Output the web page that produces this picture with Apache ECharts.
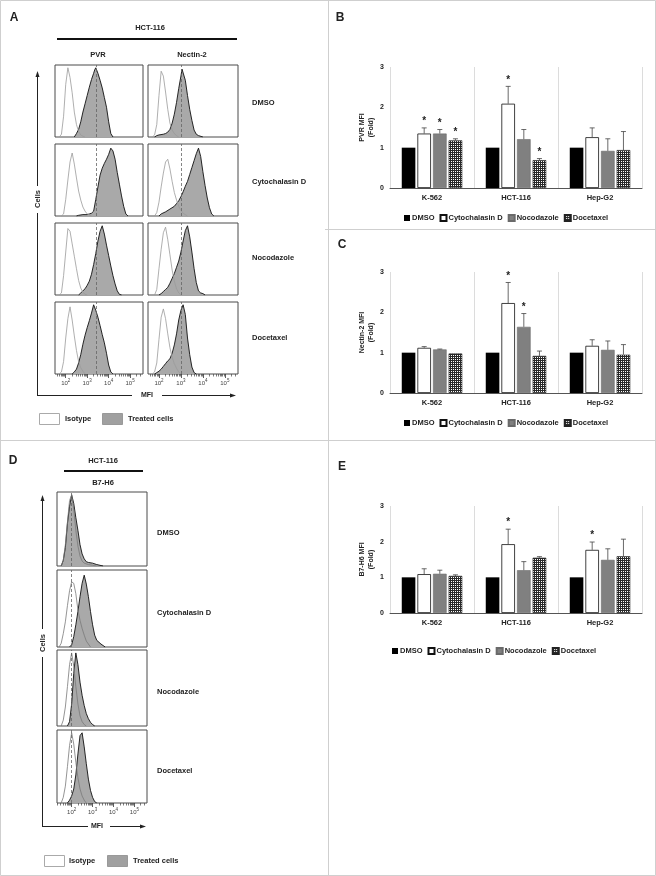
<!DOCTYPE html>
<html>
<head>
<meta charset="utf-8">
<script src="https://cdn.jsdelivr.net/npm/echarts@6/dist/echarts.min.js"></script>
<style>
  html, body { margin: 0; padding: 0; background: #fff; }
  #main { width: 656px; height: 876px; }
</style>
</head>
<body>
<div id="main"></div>
<script>
// ---- data -------------------------------------------------------------
const cellLines = ['K-562', 'HCT-116', 'Hep-G2'];
const treatments = ['DMSO', 'Cytochalasin D', 'Nocodazole', 'Docetaxel'];
const rowLabels = ['DMSO', 'Cytochalasin D', 'Nocodazole', 'Docetaxel'];

// B: PVR MFI (fold), mean / sd / significant
const pvrMean = [[1, 1, 1], [1.35, 2.09, 1.26], [1.35, 1.21, 0.92], [1.18, 0.69, 0.94]];
const pvrSd = [[0, 0, 0], [0.14, 0.43, 0.23], [0.10, 0.24, 0.30], [0.04, 0.04, 0.46]];
const pvrSig = [[0, 0, 0], [1, 1, 0], [1, 0, 0], [1, 1, 0]];
// C: Nectin-2 MFI (fold)
const necMean = [[1, 1, 1], [1.12, 2.23, 1.17], [1.08, 1.64, 1.07], [0.98, 0.92, 0.95]];
const necSd = [[0, 0, 0], [0.03, 0.51, 0.15], [0.01, 0.33, 0.22], [0, 0.12, 0.25]];
const necSig = [[0, 0, 0], [0, 1, 0], [0, 1, 0], [0, 0, 0]];
// E: B7-H6 MFI (fold)
const b7Mean = [[1, 1, 1], [1.09, 1.93, 1.77], [1.10, 1.20, 1.49], [1.04, 1.55, 1.59]];
const b7Sd = [[0, 0, 0], [0.15, 0.42, 0.22], [0.10, 0.24, 0.31], [0.03, 0.03, 0.48]];
const b7Sig = [[0, 0, 0], [0, 1, 1], [0, 0, 0], [0, 0, 0]];

// histograms: [log10 MFI, % of max]
const pvrIsoDmso = [[1.7,0],[1.8,4],[1.9,30],[2.0,76],[2.1,100],[2.2,86],[2.3,64],[2.4,36],[2.5,18],[2.6,8],[2.7,3],[2.8,1],[2.9,0]];
const pvrTrtDmso = [[2.4,0],[2.5,5],[2.6,11],[2.7,22],[2.8,36],[2.9,48],[3.0,60],[3.1,72],[3.2,83],[3.3,92],[3.35,97],[3.4,100],[3.5,92],[3.6,82],[3.7,71],[3.8,57],[3.9,43],[4.0,22],[4.1,5],[4.2,0]];
const pvrIsoCyto = [[1.8,0],[1.9,3],[2.0,24],[2.1,52],[2.2,78],[2.3,91],[2.4,75],[2.5,55],[2.6,36],[2.7,23],[2.8,13],[2.9,7],[3.0,3],[3.2,0]];
const pvrTrtCyto = [[2.5,0],[2.6,1],[2.8,2],[3.0,2],[3.1,3],[3.2,4],[3.3,7],[3.4,24],[3.5,42],[3.6,59],[3.7,69],[3.8,76],[3.9,82],[4.0,89],[4.1,98],[4.15,100],[4.2,94],[4.3,82],[4.4,63],[4.5,46],[4.6,29],[4.7,14],[4.8,3],[4.9,0]];
const pvrIsoNoc = [[1.7,0],[1.8,3],[1.9,28],[2.0,62],[2.1,96],[2.2,92],[2.3,74],[2.4,56],[2.5,38],[2.6,21],[2.7,10],[2.8,4],[2.9,1],[3.0,0]];
const pvrTrtNoc = [[2.6,0],[2.7,3],[2.8,6],[2.9,9],[3.0,14],[3.1,20],[3.2,30],[3.3,44],[3.4,60],[3.5,78],[3.6,92],[3.7,100],[3.8,88],[3.9,72],[4.0,57],[4.1,42],[4.2,28],[4.3,16],[4.4,6],[4.5,1],[4.6,0]];
const pvrIsoDoc = [[1.7,0],[1.8,3],[1.9,18],[2.0,52],[2.1,80],[2.2,97],[2.3,78],[2.4,55],[2.5,34],[2.6,18],[2.7,9],[2.8,4],[2.9,0]];
const pvrTrtDoc = [[2.3,0],[2.4,3],[2.5,7],[2.6,16],[2.7,28],[2.8,43],[2.9,56],[3.0,67],[3.1,77],[3.2,88],[3.3,100],[3.4,92],[3.5,82],[3.6,70],[3.7,57],[3.8,45],[3.9,30],[4.0,13],[4.1,3],[4.2,0]];

const necIsoDmso = [[1.7,0],[1.8,3],[1.9,18],[2.0,60],[2.1,95],[2.2,88],[2.3,65],[2.4,40],[2.5,20],[2.6,10],[2.7,5],[2.8,2],[2.9,0]];
const necTrtDmso = [[1.8,0],[1.9,2],[2.0,3],[2.2,4],[2.3,5],[2.4,7],[2.5,11],[2.6,20],[2.7,33],[2.8,50],[2.9,70],[3.0,88],[3.05,98],[3.1,96],[3.2,82],[3.3,60],[3.4,40],[3.5,24],[3.6,10],[3.7,4],[3.8,2],[4.0,0]];
const necIsoCyto = [[1.8,0],[1.9,5],[2.0,20],[2.1,42],[2.2,62],[2.3,78],[2.4,82],[2.5,68],[2.6,50],[2.7,34],[2.8,23],[2.9,14],[3.0,8],[3.1,4],[3.3,0]];
const necTrtCyto = [[2.0,0],[2.1,3],[2.3,6],[2.5,10],[2.7,14],[2.8,18],[2.9,22],[3.0,28],[3.1,35],[3.2,43],[3.3,50],[3.4,60],[3.5,70],[3.6,80],[3.7,90],[3.8,98],[3.85,100],[3.9,86],[4.0,64],[4.1,44],[4.2,26],[4.3,12],[4.4,3],[4.5,0]];
const necIsoNoc = [[1.8,0],[1.9,8],[2.0,38],[2.1,66],[2.2,90],[2.3,98],[2.4,80],[2.5,58],[2.6,36],[2.7,20],[2.8,9],[2.9,3],[3.0,0]];
const necTrtNoc = [[2.0,0],[2.1,2],[2.2,5],[2.3,8],[2.4,11],[2.5,17],[2.6,24],[2.7,31],[2.8,40],[2.9,49],[3.0,62],[3.1,78],[3.2,93],[3.3,100],[3.4,84],[3.5,62],[3.6,38],[3.7,18],[3.8,6],[3.9,3],[4.0,2],[4.1,0]];
const necIsoDoc = [[1.7,0],[1.8,3],[1.9,16],[2.0,50],[2.1,82],[2.2,94],[2.3,80],[2.4,58],[2.5,38],[2.6,24],[2.7,15],[2.8,8],[2.9,3],[3.0,0]];
const necTrtDoc = [[1.8,0],[1.9,2],[2.0,4],[2.1,7],[2.2,11],[2.3,15],[2.4,19],[2.5,22],[2.6,30],[2.7,42],[2.8,58],[2.9,78],[3.0,92],[3.1,100],[3.2,86],[3.3,52],[3.4,28],[3.5,10],[3.6,2],[3.7,0]];

const b7IsoDmso = [[1.5,0],[1.6,8],[1.7,30],[1.8,62],[1.9,92],[2.0,100],[2.1,80],[2.2,50],[2.3,28],[2.4,14],[2.5,7],[2.6,4],[2.8,2],[3.0,1],[3.2,0]];
const b7TrtDmso = [[1.5,0],[1.6,8],[1.7,26],[1.8,60],[1.9,84],[2.0,100],[2.1,88],[2.2,68],[2.3,50],[2.4,30],[2.5,17],[2.6,10],[2.7,6],[2.8,5],[3.0,4],[3.2,2],[3.5,0]];
const b7IsoCyto = [[1.4,0],[1.5,5],[1.6,18],[1.7,34],[1.8,56],[1.9,76],[2.0,88],[2.1,86],[2.2,72],[2.3,50],[2.4,36],[2.5,25],[2.6,16],[2.7,8],[2.9,0]];
const b7TrtCyto = [[1.9,0],[2.0,3],[2.1,14],[2.2,30],[2.3,48],[2.4,68],[2.5,86],[2.6,97],[2.7,85],[2.8,68],[2.9,48],[3.0,30],[3.1,16],[3.2,9],[3.4,4],[3.6,0]];
const b7IsoNoc = [[1.5,0],[1.6,8],[1.7,26],[1.8,54],[1.9,84],[2.0,100],[2.1,82],[2.2,54],[2.3,30],[2.4,14],[2.5,6],[2.6,2],[2.7,0]];
const b7TrtNoc = [[1.8,0],[1.9,6],[2.0,30],[2.1,72],[2.2,100],[2.3,84],[2.4,60],[2.5,42],[2.6,28],[2.7,17],[2.8,10],[2.9,5],[3.0,2],[3.1,0]];
const b7IsoDoc = [[1.5,0],[1.6,8],[1.7,24],[1.8,52],[1.9,82],[2.0,100],[2.1,84],[2.2,58],[2.3,36],[2.4,20],[2.5,10],[2.6,4],[2.7,0]];
const b7TrtDoc = [[1.8,0],[1.9,4],[2.0,10],[2.1,20],[2.2,40],[2.3,70],[2.4,96],[2.5,100],[2.6,80],[2.7,56],[2.8,34],[2.9,18],[3.0,8],[3.1,2],[3.2,0]];

// DMSO reference MFI (dashed line), log10
const pvrRef = 3.4, necRef = 3.0, b7Ref = 2.0;
const decadeTicks = [2, 3, 4, 5];
const minorMult = [2, 3, 4, 5, 6, 7, 8, 9];

// ---- helpers ----------------------------------------------------------
const FF = "'Liberation Sans', Arial, sans-serif";
const grid = [], xAxis = [], yAxis = [], series = [];

function minorTicks(lo, hi) {
  const out = [];
  [1, 2, 3, 4, 5].forEach(d => minorMult.forEach(m => {
    const v = Math.log10(m) + d;
    if (v > lo && v < hi) out.push(v);
  }));
  return out;
}

function addHist(box, range, iso, trt, ref, bottom, isoColor) {
  const gi = grid.length;
  grid.push({ left: box.left, top: box.top, width: box.width, height: box.height,
    show: true, borderColor: '#4a4a4a', borderWidth: 1 });
  const xi = xAxis.length;
  xAxis.push({
    type: 'value', gridIndex: gi, min: range[0], max: range[1], position: 'bottom',
    axisLine: { show: false }, splitLine: { show: false },
    axisTick: { show: bottom, customValues: decadeTicks, length: 4, lineStyle: { color: '#333', width: 0.8 } },
    axisLabel: {
      show: bottom, customValues: decadeTicks, margin: 4,
      formatter: v => '{b|10}{s|' + v + '}',
      rich: {
        b: { fontSize: 6, fontFamily: FF, color: '#444' },
        s: { fontSize: 4.5, fontFamily: FF, color: '#444', padding: [0, 0, 5, 0] }
      }
    }
  });
  if (bottom) {
    xAxis.push({
      type: 'value', gridIndex: gi, min: range[0], max: range[1], position: 'bottom',
      axisLine: { show: false }, splitLine: { show: false }, axisLabel: { show: false },
      axisTick: { show: true, customValues: minorTicks(range[0], range[1]), length: 2.5, lineStyle: { color: '#444', width: 0.7 } }
    });
  }
  const yi = yAxis.length;
  yAxis.push({ type: 'value', gridIndex: gi, min: 0, max: 104, show: false });
  series.push({
    type: 'line', name: 'Treated cells', xAxisIndex: xi, yAxisIndex: yi, data: trt,
    symbol: 'none', lineStyle: { color: '#111', width: 0.9 },
    areaStyle: { color: '#a9a9a9', opacity: 1 }, z: 2, silent: true,
    markLine: { silent: true, symbol: 'none', label: { show: false },
      lineStyle: { type: [3, 2], color: '#666', width: 0.8 }, data: [{ xAxis: ref }] }
  });
  series.push({
    type: 'line', name: 'Isotype', xAxisIndex: xi, yAxisIndex: yi, data: iso,
    symbol: 'none', lineStyle: { color: isoColor, width: 0.8 }, z: 3, silent: true
  });
}

// panel A
const colsA = [{ left: 55, width: 88 }, { left: 148, width: 90 }];
const topsA = [65, 144, 223, 302];
const pvrIso = [pvrIsoDmso, pvrIsoCyto, pvrIsoNoc, pvrIsoDoc];
const pvrTrt = [pvrTrtDmso, pvrTrtCyto, pvrTrtNoc, pvrTrtDoc];
const necIso = [necIsoDmso, necIsoCyto, necIsoNoc, necIsoDoc];
const necTrt = [necTrtDmso, necTrtCyto, necTrtNoc, necTrtDoc];
topsA.forEach((t, r) => {
  addHist({ left: colsA[0].left, width: colsA[0].width, top: t, height: 72 }, [1.5, 5.6], pvrIso[r], pvrTrt[r], pvrRef, r === 3, '#9a9a9a');
  addHist({ left: colsA[1].left, width: colsA[1].width, top: t, height: 72 }, [1.5, 5.6], necIso[r], necTrt[r], necRef, r === 3, '#9a9a9a');
});
// panel D
const topsD = [492, 570, 650, 730];
const heightsD = [74, 77, 76, 73];
const b7Iso = [b7IsoDmso, b7IsoCyto, b7IsoNoc, b7IsoDoc];
const b7Trt = [b7TrtDmso, b7TrtCyto, b7TrtNoc, b7TrtDoc];
topsD.forEach((t, r) => {
  addHist({ left: 57, width: 90, top: t, height: heightsD[r] }, [1.3, 5.6], b7Iso[r], b7Trt[r], b7Ref, r === 3, '#7a7a7a');
});

// bar charts
const pc = document.createElement('canvas');
pc.width = 4; pc.height = 4;
const pg = pc.getContext('2d');
pg.fillStyle = '#2a2a2a'; pg.fillRect(0, 0, 4, 4);
pg.fillStyle = '#ffffff';
[[1, 1], [3, 3], [1, 3], [3, 1]].forEach(p => pg.fillRect(p[0], p[1], 1, 1));
const docPattern = { image: pc, repeat: 'repeat' };

const barStyles = [
  { color: '#000' },
  { color: '#fff', borderColor: '#111', borderWidth: 0.8 },
  { color: '#808080', borderColor: '#6a6a6a', borderWidth: 0.6 },
  { color: docPattern, borderColor: '#222', borderWidth: 0.6 }
];
const CAT_GAP = 0.28, BAR_GAP = 0.15;

function addBars(box, mean, sd, sig, yName) {
  const gi = grid.length;
  grid.push({ left: box.left, top: box.top, width: box.width, height: box.height });
  const xi = xAxis.length;
  xAxis.push({
    type: 'category', gridIndex: gi, data: cellLines,
    axisLine: { lineStyle: { color: '#555', width: 1 } }, axisTick: { show: false },
    splitLine: { show: true, lineStyle: { color: '#dcdcdc', width: 1 } },
    axisLabel: { fontSize: 7.5, fontWeight: 'bold', color: '#222', fontFamily: FF, margin: 6 }
  });
  const yi = yAxis.length;
  yAxis.push({
    type: 'value', gridIndex: gi, min: 0, max: 3, interval: 1,
    axisLine: { show: false }, axisTick: { show: false }, splitLine: { show: false },
    axisLabel: { fontSize: 7, fontWeight: 'bold', color: '#222', fontFamily: FF, margin: 6 },
    name: yName, nameLocation: 'middle', nameGap: 14,
    nameTextStyle: { fontSize: 7, fontWeight: 'bold', color: '#222', fontFamily: FF, lineHeight: 9 }
  });
  treatments.forEach((t, k) => {
    series.push({
      type: 'bar', name: t, xAxisIndex: xi, yAxisIndex: yi, data: mean[k],
      barGap: (BAR_GAP * 100) + '%', barCategoryGap: (CAT_GAP * 100) + '%',
      itemStyle: barStyles[k], silent: true
    });
  });
  [1, 2, 3].forEach(k => {
    series.push({
      type: 'custom', xAxisIndex: xi, yAxisIndex: yi, silent: true, z: 5,
      encode: { x: 0, y: 1 },
      data: cellLines.map((c, i) => [i, mean[k][i], sd[k][i], sig[k][i]]),
      renderItem: (params, api) => {
        const band = api.size([1, 0])[0];
        const used = band * (1 - CAT_GAP);
        const bw = used / (4 + 3 * BAR_GAP);
        const cx = api.coord([api.value(0), 0])[0] - used / 2 + bw / 2 + k * bw * (1 + BAR_GAP);
        const y0 = api.coord([api.value(0), api.value(1)])[1];
        const y1 = api.coord([api.value(0), api.value(1) + api.value(2)])[1];
        const kids = [];
        if (api.value(2) > 0) {
          kids.push({ type: 'line', shape: { x1: cx, y1: y0, x2: cx, y2: y1 }, style: { stroke: '#444', lineWidth: 0.8 } });
          kids.push({ type: 'line', shape: { x1: cx - 2.5, y1: y1, x2: cx + 2.5, y2: y1 }, style: { stroke: '#444', lineWidth: 0.8 } });
        }
        if (api.value(3)) {
          kids.push({ type: 'text', x: cx, y: y1 - 1.5,
            style: { text: '*', font: 'bold 10px ' + FF, fill: '#222', textAlign: 'center', textVerticalAlign: 'bottom' } });
        }
        return { type: 'group', children: kids };
      }
    });
  });
}

addBars({ left: 390, top: 67, width: 252, height: 121 }, pvrMean, pvrSd, pvrSig, 'PVR MFI\n(Fold)');
addBars({ left: 390, top: 272, width: 252, height: 121 }, necMean, necSd, necSig, 'Nectin-2 MFI\n(Fold)');
addBars({ left: 390, top: 506, width: 252, height: 107 }, b7Mean, b7Sd, b7Sig, 'B7-H6 MFI\n(Fold)');

function barLegend(left, top) {
  return {
    left: left, top: top, itemWidth: 6, itemHeight: 6, itemGap: 5, icon: 'rect',
    selectedMode: false, data: treatments,
    textStyle: { fontSize: 7.5, fontWeight: 'bold', color: '#222', fontFamily: FF, padding: [0, 0, 0, -3] }
  };
}

// ---- graphics: frame, titles, axes arrows, keys ------------------------
const G = [];
function ln(x1, y1, x2, y2, stroke, w) {
  G.push({ type: 'line', silent: true, shape: { x1, y1, x2, y2 }, style: { stroke: stroke || '#222', lineWidth: w || 1 } });
}
function txt(x, y, text, size, align, rot) {
  G.push({ type: 'text', silent: true, x, y, rotation: rot || 0,
    style: { text, font: 'bold ' + size + 'px ' + FF, fill: '#222', textAlign: align || 'center', textVerticalAlign: 'middle' } });
}
function tri(pts) {
  G.push({ type: 'polygon', silent: true, shape: { points: pts }, style: { fill: '#222' } });
}
function key(x, y, fill, stroke) {
  G.push({ type: 'rect', silent: true, shape: { x, y, width: 20, height: 11 }, style: { fill, stroke, lineWidth: 1 } });
}

G.push({ type: 'rect', silent: true, shape: { x: 0.5, y: 0.5, width: 655, height: 875 }, style: { fill: 'none', stroke: '#cfcfcf', lineWidth: 1 } });
ln(328.5, 0, 328.5, 876, '#cfcfcf');
ln(0, 440.5, 656, 440.5, '#cfcfcf');
ln(325, 229.5, 656, 229.5, '#cfcfcf');

txt(14, 18, 'A', 12); txt(340, 18, 'B', 12); txt(342, 245, 'C', 12);
txt(13, 461, 'D', 12); txt(342, 467, 'E', 12);

// panel A labels
txt(150, 28, 'HCT-116', 7.5);
G.push({ type: 'rect', silent: true, shape: { x: 57, y: 38, width: 180, height: 2 }, style: { fill: '#111' } });
txt(98, 55, 'PVR', 7.5); txt(192, 55, 'Nectin-2', 7.5);
[103, 182, 258, 338].forEach((y, i) => txt(252, y, rowLabels[i], 7.5, 'left'));
ln(37.5, 76, 37.5, 186); ln(37.5, 213, 37.5, 395.5);
tri([[37.5, 71], [35.5, 77], [39.5, 77]]);
txt(38, 199, 'Cells', 7.5, 'center', Math.PI / 2);
ln(37, 395.5, 132, 395.5); ln(162, 395.5, 231, 395.5);
tri([[236, 395.5], [230, 393.5], [230, 397.5]]);
txt(147, 395, 'MFI', 7);
key(39.5, 413.5, '#fff', '#aaa'); txt(65, 419, 'Isotype', 7.5, 'left');
key(102.5, 413.5, '#a0a0a0', '#999'); txt(128, 419, 'Treated cells', 7.5, 'left');

// panel D labels
txt(103, 461, 'HCT-116', 7.5);
G.push({ type: 'rect', silent: true, shape: { x: 64, y: 470, width: 79, height: 2 }, style: { fill: '#111' } });
txt(103, 483, 'B7-H6', 7.5);
[533, 613, 692, 771].forEach((y, i) => txt(157, y, rowLabels[i], 7.5, 'left'));
ln(42.5, 500, 42.5, 629); ln(42.5, 657, 42.5, 826.5);
tri([[42.5, 495], [40.5, 501], [44.5, 501]]);
txt(43, 643, 'Cells', 7.5, 'center', Math.PI / 2);
ln(42, 826.5, 88, 826.5); ln(110, 826.5, 141, 826.5);
tri([[146, 826.5], [140, 824.5], [140, 828.5]]);
txt(97, 826, 'MFI', 7);
key(44.5, 855.5, '#fff', '#aaa'); txt(69, 861, 'Isotype', 7.5, 'left');
key(107.5, 855.5, '#a0a0a0', '#999'); txt(133, 861, 'Treated cells', 7.5, 'left');

// ---- chart ------------------------------------------------------------
const chart = echarts.init(document.getElementById('main'));
chart.setOption({
  animation: false,
  backgroundColor: '#fff',
  textStyle: { fontFamily: FF },
  grid: grid,
  xAxis: xAxis,
  yAxis: yAxis,
  legend: [barLegend(399, 209), barLegend(399, 414), barLegend(387, 642)],
  series: series,
  graphic: G
});
</script>
</body>
</html>
